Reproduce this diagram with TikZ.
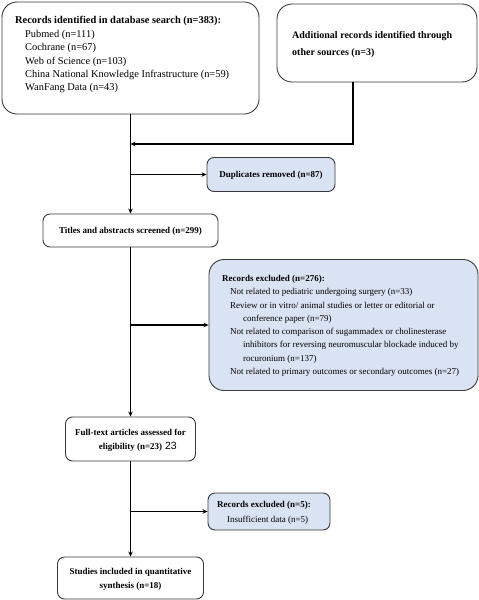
\documentclass[tikz,border=0pt]{standalone}
\usepackage{fontspec}
\setmainfont{Liberation Serif}
\newfontfamily\arialfont{Liberation Sans}
\usetikzlibrary{arrows.meta}
\definecolor{boxblue}{HTML}{DAE3F3}
\definecolor{boxline}{HTML}{3A3A3A}
\begin{document}
\begin{tikzpicture}[x=1pt,y=-1pt,
  box/.style={draw=boxline, line width=0.9pt, rounded corners=7pt, inner sep=0pt},
  bigbox/.style={box, rounded corners=15pt},
  bluebox/.style={fill=boxblue},
  txt/.style={inner sep=0pt, font=\fontsize{9}{13.3}\selectfont, align=left},
  ctxt/.style={inner sep=0pt, font=\fontsize{9}{14}\selectfont\bfseries, align=center},
  conn/.style={line width=1.3pt, draw=black},
  arr/.style={conn, -{Stealth[length=5pt,width=4.5pt]}}]
\useasboundingbox (0,0) rectangle (479,600);
% boxes
\node[bigbox, minimum width=257pt, minimum height=112pt] (db) at (130.5,58) {};
\node[bigbox, minimum width=200pt, minimum height=78pt] (add) at (377,43) {};
\node[box, bluebox, minimum width=128pt, minimum height=34pt] (dup) at (271,174.5) {};
\node[box, minimum width=175pt, minimum height=33pt] (ta) at (130.5,230.5) {};
\node[bigbox, bluebox, minimum width=269pt, minimum height=131pt] (ex) at (343.5,325) {};
\node[box, minimum width=130pt, minimum height=44pt] (ft) at (130.5,439) {};
\node[box, bluebox, minimum width=122pt, minimum height=37pt] (ex5) at (269,511.5) {};
\node[box, minimum width=146pt, minimum height=42pt] (st) at (130.5,578) {};
% texts
\node[txt, anchor=north west, font=\fontsize{10.4}{13.4}\selectfont] (dbt) at (15,16.3) {\textbf{Records identified in database search (n=383):}\\
\hspace*{10pt}Pubmed (n=111)\\
\hspace*{10pt}Cochrane (n=67)\\
\hspace*{10pt}Web of Science (n=103)\\
\hspace*{10pt}China National Knowledge Infrastructure (n=59)\\
\hspace*{10pt}WanFang Data (n=43)};
\node[txt, anchor=north west, font=\fontsize{10}{16.7}\selectfont\bfseries] (addt) at (292,31.5) {Additional records identified through\\other sources (n=3)};
\node[ctxt] (dupt) at (271,175) {Duplicates removed (n=87)};
\node[ctxt] (tat) at (130.5,231) {Titles and abstracts screened (n=299)};
\node[txt, anchor=north west] (ext) at (222,275) {\textbf{Records excluded (n=276):}\\
\hspace*{8pt}Not related to pediatric undergoing surgery (n=33)\\
\hspace*{8pt}Review or in vitro/ animal studies or letter or editorial or\\
\hspace*{21pt}conference paper (n=79)\\
\hspace*{8pt}Not related to comparison of sugammadex or cholinesterase\\
\hspace*{21pt}inhibitors for reversing neuromuscular blockade induced by\\
\hspace*{21pt}rocuronium (n=137)\\
\hspace*{8pt}Not related to primary outcomes or secondary outcomes (n=27)};
\node[ctxt] (ftt) at (130.5,440) {Full-text articles assessed for\\eligibility (n=23)\rlap{\mdseries\arialfont\fontsize{10.5}{12}\selectfont\ 23}};
\node[txt, anchor=north west, font=\fontsize{9}{15}\selectfont] (ex5t) at (217,501.5) {\textbf{Records excluded (n=5):}\\\hspace*{10pt}Insufficient data (n=5)};
\node[ctxt] (stt) at (130.5,579) {Studies included in quantitative\\synthesis (n=18)};
% connectors
\coordinate (j1) at (130.5,144);
\coordinate (j2) at (130.5,174.5);
\coordinate (j3) at (130.5,325);
\coordinate (j4) at (130.5,511.5);
\draw[arr] (db.south) -- (ta.north);
\draw[arr] ([xshift=-24pt]add.south) |- (j1);
\draw[arr] (j2) -- (dup.west);
\draw[arr] (ta.south) -- (ft.north);
\draw[arr] (j3) -- (ex.west);
\draw[arr] (ft.south) -- (st.north);
\draw[arr] (j4) -- (ex5.west);
\end{tikzpicture}
\end{document}
